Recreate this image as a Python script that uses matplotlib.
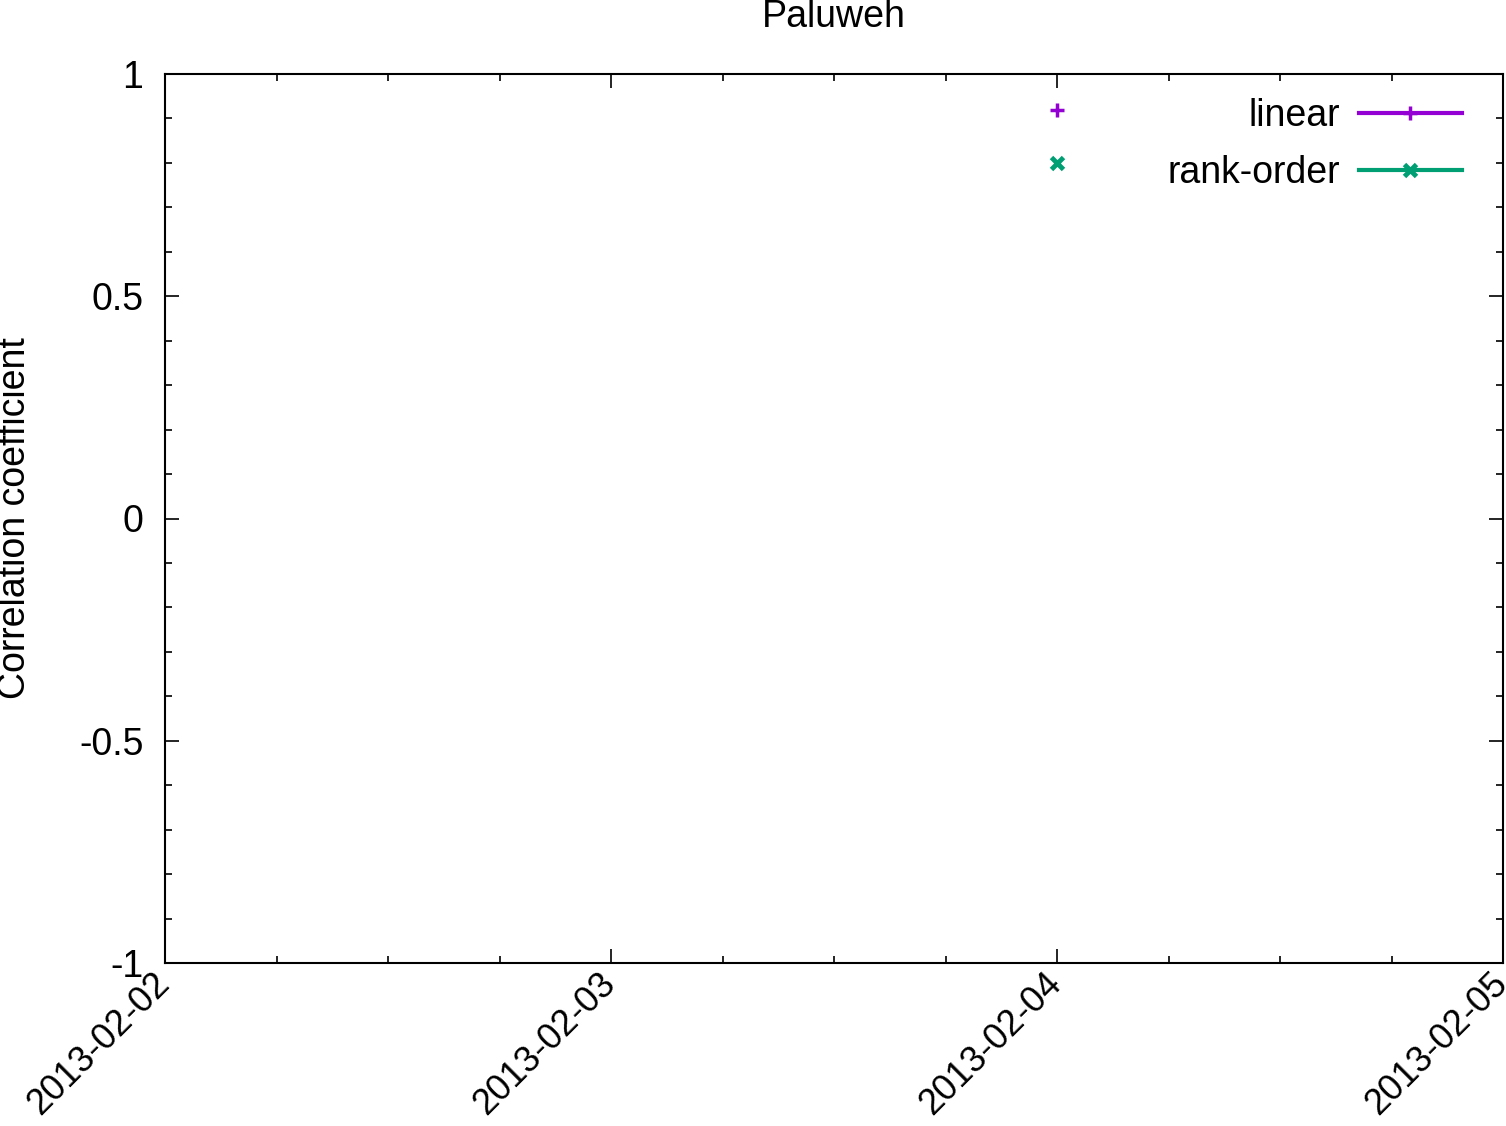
import matplotlib
matplotlib.use("Agg")
import matplotlib.pyplot as plt
import matplotlib.dates as mdates
import matplotlib.transforms as mtrans
from matplotlib.lines import Line2D
from matplotlib.ticker import MultipleLocator
import datetime as dt

plt.rcParams['font.family'] = ['Liberation Sans', 'DejaVu Sans']

# Data
dates = [dt.datetime(2013, 2, 4)]
linear = [0.92]
rank_order = [0.80]
series_names = ["linear", "rank-order"]
colors = ["#9400D3", "#009E73"]
xlim = (dt.datetime(2013, 2, 2), dt.datetime(2013, 2, 5))
title = "Paluweh"
ylabel = "Correlation coefficient"

FS = 27
fig = plt.figure(figsize=(15.06, 11.26), dpi=100)
ax = fig.add_axes([165/1506, 1 - 963/1126, (1503-165)/1506, (963-74)/1126])

ax.plot(dates, linear, '-', color=colors[0], marker='+', markersize=10, mew=2.5, lw=3)
ax.plot(dates, rank_order, '-', color=colors[1], marker='x', markersize=8, mew=3.5, lw=3)

ax.set_xlim(*xlim)
ax.set_ylim(-1, 1)
ax.yaxis.set_major_locator(MultipleLocator(0.5))
ax.yaxis.set_minor_locator(MultipleLocator(0.1))
ax.yaxis.set_major_formatter(matplotlib.ticker.FuncFormatter(lambda v, p: ('%g' % v)))
ax.xaxis.set_major_locator(mdates.DayLocator())
ax.xaxis.set_minor_locator(mdates.HourLocator(byhour=[6, 12, 18]))
ax.xaxis.set_major_formatter(mdates.DateFormatter('%Y-%m-%d'))

ax.tick_params(which='both', direction='in', top=True, right=True, width=1.2, labelsize=FS)
ax.tick_params(which='major', length=10)
ax.tick_params(which='minor', length=5)
ax.tick_params(axis='y', pad=15.5)
ax.tick_params(axis='x', pad=11, labelsize=26)
offset = mtrans.ScaledTranslation(-1/100, 0, fig.dpi_scale_trans)
for lbl in ax.get_xticklabels():
    lbl.set_rotation(45)
    lbl.set_ha('right')
    lbl.set_va('center')
    lbl.set_rotation_mode('anchor')
    lbl.set_transform(lbl.get_transform() + offset)
for s in ax.spines.values():
    s.set_linewidth(1.5)

ax.set_title(title, fontsize=FS, pad=34)
fig.text(15/1506, 1 - 518/1126, ylabel, fontsize=FS, rotation=90, ha='center', va='center')

handles = [Line2D([], [], color=colors[0], marker='+', markersize=10, mew=2.5, lw=3),
           Line2D([], [], color=colors[1], marker='x', markersize=8, mew=3.5, lw=3)]
ax.legend(handles, series_names, loc='upper right', frameon=False, markerfirst=False,
          fontsize=FS, handlelength=2.75, handletextpad=0.5, labelspacing=0.55,
          borderaxespad=0.3, bbox_to_anchor=(0.989, 1.002))

fig.savefig("out.png", dpi=100)
